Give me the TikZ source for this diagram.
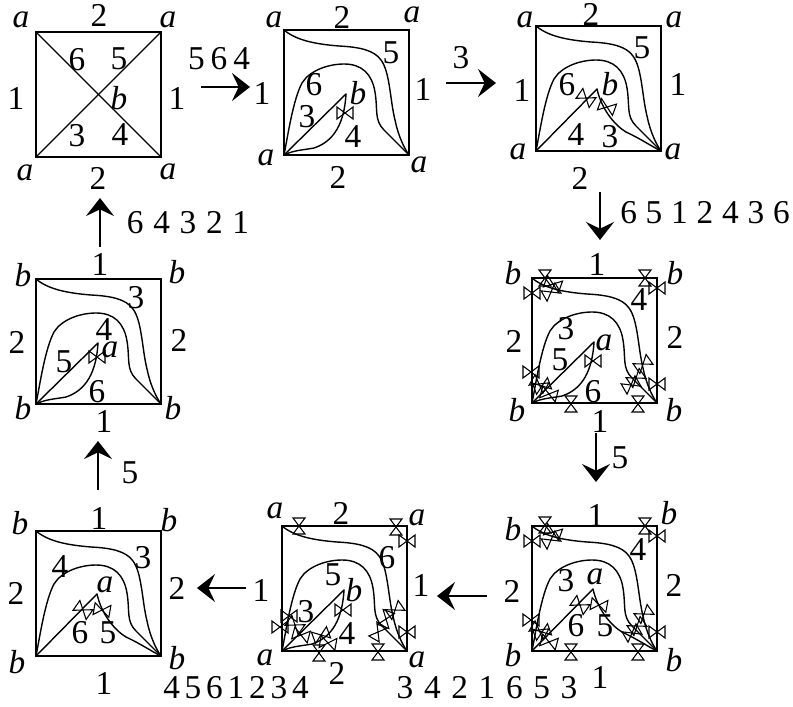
\documentclass[tikz,border=0pt]{standalone}
\usepackage{fontspec}
\setmainfont{Liberation Serif}
\usetikzlibrary{arrows.meta}
\tikzset{
  x=0.75pt, y=-0.75pt,
  edgeline/.style={draw=black, line width=1.2pt, line join=miter},
  curveline/.style={draw=black, line width=1.05pt, line cap=round, line join=round},
  tieline/.style={draw=black, line width=0.8pt, line join=miter},
  num/.style={inner sep=0pt, font=\fontsize{25}{27}\selectfont},
  vert/.style={inner sep=0pt, font=\fontsize{25}{27}\selectfont\itshape},
  seq/.style={num, execute at begin node={\spaceskip=#1\relax}},
  move/.style={-{Stealth[length=13.5pt, width=21pt, inset=5pt]}, line width=1.8pt},
  panelframe/.pic={
    \draw[edgeline] (0,0) rectangle (125,125);
    \draw[curveline] (0,0) .. controls (12,10) and (30,14) .. (55,16)
      .. controls (75,17) and (90,20) .. (97,30)
      .. controls (106,42) and (106,70) .. (111,90)
      .. controls (114,105) and (120,118) .. (125,125);
    \draw[curveline] (0,125) .. controls (4,105) and (9,70) .. (18,53)
      .. controls (26,40) and (45,34) .. (60,34)
      .. controls (78,34) and (88,44) .. (91,62)
      .. controls (94,80) and (90,90) .. (100,100)
      .. controls (108,108) and (118,118) .. (125,125);
  },
  leafleft/.pic={
    \draw[curveline] (0,125) -- (62,64);
    \draw[curveline] (0,125) .. controls (10,120) and (20,120) .. (30,118)
      .. controls (45,113) and (60,100) .. (62,64);
  },
  leafright/.pic={
    \draw[curveline] (0,125) -- (61,63);
    \draw[curveline] (61,63) .. controls (66,85) and (80,100) .. (90,106)
      .. controls (105,113) and (115,120) .. (125,125);
  },
  tie/.pic={
    \draw[tieline] (-8,-6) -- (8,6) -- (8,-6) -- (-8,6) -- cycle;
  },
}
\begin{document}
\begin{tikzpicture}
  \useasboundingbox (0,0) rectangle (793,707);
  % first square
  \draw[edgeline] (36,32) rectangle (161,157);
  \draw[curveline] (36,32) -- (161,157);
  \draw[curveline] (36,157) -- (161,32);
  % remaining squares
  \foreach \px/\py in {284/30, 536/26, 532/278, 532/526, 282/526, 36/531, 36/279}
    \pic at (\px,\py) {panelframe};
  \foreach \px/\py in {284/30, 532/278, 282/526, 36/279}
    \pic at (\px,\py) {leafleft};
  \foreach \px/\py in {536/26, 532/526, 36/531}
    \pic at (\px,\py) {leafright};
  % ties of the left leaf
  \pic at (345,113) {tie};
  \pic at (593,361) {tie};
  \pic at (343,610) {tie};
  \pic at (97,357) {tie};
  % ties of the right leaf
  \begin{scope}[shift={(536,26)}]
    \pic[rotate=-35] at (50,72) {tie};
    \pic[rotate=-20] at (71,81) {tie};
  \end{scope}
  \begin{scope}[shift={(532,526)}]
    \pic[rotate=-35] at (48,79) {tie};
    \pic[rotate=-10] at (67,79) {tie};
  \end{scope}
  \begin{scope}[shift={(36,531)}]
    \pic[rotate=-35] at (47,79) {tie};
    \pic[rotate=-10] at (66,79) {tie};
  \end{scope}
  % ties on the edges and curves
  \begin{scope}[shift={(532,278)}]
    \pic[rotate=90] at (13,0) {tie};
    \pic at (0,15) {tie};
    \pic[rotate=-20] at (21,6) {tie};
    \pic[rotate=30] at (19,14) {tie};
    \pic[rotate=90] at (113,0) {tie};
    \pic at (125,10) {tie};
    \pic at (-1,94) {tie};
    \pic[rotate=-30] at (7,106) {tie};
    \pic[rotate=20] at (10,108) {tie};
    \pic[rotate=-15] at (17,116) {tie};
    \pic[rotate=90] at (39,126) {tie};
    \pic[rotate=90] at (106,126) {tie};
    \pic at (125,106) {tie};
    \pic[rotate=35] at (111,86) {tie};
    \pic[rotate=35] at (104,100) {tie};
    \pic[rotate=30] at (99,107) {tie};
  \end{scope}
  \begin{scope}[shift={(532,526)}]
    \pic[rotate=90] at (13,-1) {tie};
    \pic at (0,15) {tie};
    \pic[rotate=-20] at (21,6) {tie};
    \pic[rotate=30] at (19,14) {tie};
    \pic[rotate=90] at (113,0) {tie};
    \pic at (125,10) {tie};
    \pic at (-1,94) {tie};
    \pic[rotate=-30] at (7,104) {tie};
    \pic[rotate=20] at (10,106) {tie};
    \pic[rotate=-15] at (17,116) {tie};
    \pic[rotate=90] at (39,126) {tie};
    \pic[rotate=90] at (106,126) {tie};
    \pic at (125,106) {tie};
    \pic[rotate=35] at (112,88) {tie};
    \pic[rotate=35] at (105,100) {tie};
    \pic[rotate=30] at (100,107) {tie};
  \end{scope}
  \begin{scope}[shift={(282,526)}]
    \pic[rotate=90] at (17,0) {tie};
    \pic[rotate=90] at (114,1) {tie};
    \pic at (125,15) {tie};
    \pic at (-2,101) {tie};
    \pic at (7,90) {tie};
    \pic[rotate=-35] at (13,99) {tie};
    \pic[rotate=-15] at (19,109) {tie};
    \pic[rotate=20] at (39,109) {tie};
    \pic[rotate=-10] at (46,117) {tie};
    \pic[rotate=90] at (37,127) {tie};
    \pic[rotate=90] at (96,126) {tie};
    \pic at (125,106) {tie};
    \pic[rotate=35] at (113,84) {tie};
    \pic[rotate=70] at (104,93) {tie};
    \pic[rotate=60] at (96,106) {tie};
  \end{scope}
  % moves
  \coordinate (m1a) at (201,87);  \coordinate (m1b) at (250,87);
  \coordinate (m2a) at (446,83);  \coordinate (m2b) at (496,83);
  \coordinate (m3a) at (600,192); \coordinate (m3b) at (600,240);
  \coordinate (m4a) at (596,433); \coordinate (m4b) at (596,482);
  \coordinate (m5a) at (487,596); \coordinate (m5b) at (437,596);
  \coordinate (m6a) at (246,588); \coordinate (m6b) at (197,588);
  \coordinate (m7a) at (98,490);  \coordinate (m7b) at (98,441);
  \coordinate (m8a) at (100,247); \coordinate (m8b) at (100,198);
  \foreach \i in {1,...,8}
    \draw[move] (m\i a) -- (m\i b);
  % side and region numbers
  \foreach \x/\y/\t [count=\i] in {
    99/15/2, 16/98/1, 177/98/1, 77/60/6, 119/59/5, 77/136/3, 120/135/4, 98/178/2,
    342/17/2, 262/93/1, 423/89/1, 391/53/5, 314/85/6, 307/117/3, 353/137/4, 338/177/2,
    591/14/2, 522/90/1, 678/84/1, 642/48/5, 567/85/6, 576/135/4, 610/137/3, 580/178/2,
    597/264/1, 514/341/2, 675/337/2, 639/300/4, 566/329/3, 560/360/5, 593/392/6, 600/421/1,
    596/515/1, 512/591/2, 674/585/2, 638/550/4, 566/581/3, 576/626/6, 605/626/5, 600/677/1,
    341/513/2, 261/590/1, 421/585/1, 387/558/6, 333/575/5, 306/612/3, 347/634/4, 337/673/2,
    99/518/1, 16/593/2, 177/588/2, 143/558/3, 60/567/4, 80/633/6, 108/633/5, 104/683/1,
    100/264/1, 17/342/2, 179/340/2, 136/298/3, 104/330/4, 64/362/5, 97/392/6, 104/421/1,
    461/58/3, 620/458/5, 130/473/5}
    \node[num] (n\i) at (\x,\y) {\t};
  % vertex letters
  \foreach \x/\y/\t [count=\i] in {
    21/20/a, 168/20/a, 119/98/b, 25/173/a, 168/172/a,
    274/20/a, 412/15/a, 358/93/b, 266/158/a, 419/165/a,
    525/20/a, 674/20/a, 610/84/b, 518/152/a, 673/152/a,
    513/273/b, 675/273/b, 604/343/a, 517/410/b, 674/410/b,
    513/529/b, 669/513/b, 595/577/a, 513/655/b, 674/660/b,
    275/511/a, 417/518/a, 354/590/b, 265/658/a, 417/660/a,
    20/523/b, 169/520/b, 105/585/a, 17/662/b, 177/658/b,
    23/275/b, 177/272/b, 110/350/a, 23/408/b, 173/408/b}
    \node[vert] (v\i) at (\x,\y) {\t};
  % sequences
  \node[seq=4.5pt] (s1) at (219,59) {5 6 4};
  \node[seq=7.3pt] (s2) at (188,223) {6 4 3 2 1};
  \node[seq=6.6pt] (s3) at (705,213) {6 5 1 2 4 3 6};
  \node[seq=8pt] (s4) at (487,688) {3 4 2 1 6 5 3};
  \node[seq=3.6pt] (s5) at (236,688) {4 5 6 1 2 3 4};
\end{tikzpicture}
\end{document}
